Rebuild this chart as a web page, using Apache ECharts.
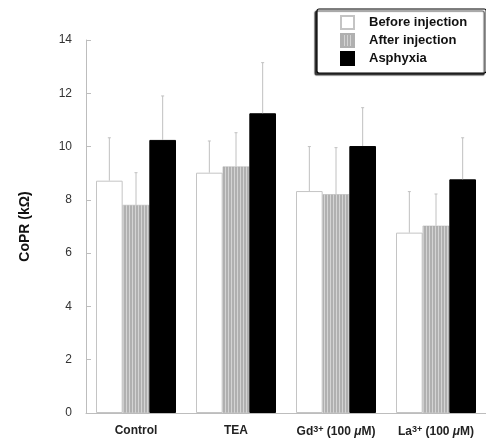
<!DOCTYPE html>
<html>
<head>
<meta charset="utf-8">
<script src="https://cdn.jsdelivr.net/npm/echarts@6/dist/echarts.min.js"></script>
<style>
    html, body { margin: 0; padding: 0; background: #fff; }
    #chart { width: 486px; height: 439px; }
</style>
</head>
<body>
<div id="chart"></div>
<script>
// data
const categories = ['Control', 'TEA', 'Gd', 'La']
const seriesNames = ['Before injection', 'After injection', 'Asphyxia']
const beforeVals = [8.72, 9.02, 8.33, 6.77]
const beforeErr = [1.61, 1.19, 1.67, 1.54]
const afterVals = [7.81, 9.25, 8.21, 7.03]
const afterErr = [1.21, 1.27, 1.75, 1.19]
const asphyxiaVals = [10.25, 11.25, 10.02, 8.77]
const asphyxiaErr = [1.65, 1.9, 1.44, 1.56]
const yTicks = { min: 0, max: 14, interval: 2 }

const font = 'Arial, "Liberation Sans", Helvetica, sans-serif'

// vertical stripe fill for the "after" bars
const stripe = document.createElement('canvas')
stripe.width = 3
stripe.height = 4
const sctx = stripe.getContext('2d')
sctx.fillStyle = '#b0b0b0'
sctx.fillRect(0, 0, 3, 4)
sctx.fillStyle = '#d4d4d4'
sctx.fillRect(0, 0, 1, 4)
const stripeFill = { image: stripe, repeat: 'repeat' }

const catGap = 0.2
const groups = [
    { vals: beforeVals, err: beforeErr, style: { color: '#fff', borderColor: '#c4c4c4', borderWidth: 1 } },
    { vals: afterVals, err: afterErr, style: { color: stripeFill, borderColor: '#b0b0b0', borderWidth: 0.5 } },
    { vals: asphyxiaVals, err: asphyxiaErr, style: { color: '#000', borderColor: '#000', borderWidth: 1 } },
]

function errorRenderer(idx) {
    return function (params, api) {
        const ci = api.value(0)
        const v = api.value(1)
        const e = api.value(2)
        const catW = api.size([1, 0])[0]
        const barW = catW * (1 - catGap) / 3
        const base = api.coord([ci, v])
        const top = api.coord([ci, v + e])
        const x = base[0] + (idx - 1) * barW
        return {
            type: 'group',
            children: [
                { type: 'line', shape: { x1: x, y1: base[1], x2: x, y2: top[1] }, style: { stroke: '#c0c0c0', lineWidth: 1 } },
                { type: 'line', shape: { x1: x - 1.5, y1: top[1], x2: x + 1.5, y2: top[1] }, style: { stroke: '#c0c0c0', lineWidth: 1 } },
            ],
        }
    }
}

const series = []
groups.forEach((g, i) => {
    series.push({
        name: seriesNames[i],
        type: 'bar',
        barGap: 0,
        barCategoryGap: catGap * 100 + '%',
        itemStyle: g.style,
        data: g.vals,
    })
})
groups.forEach((g, i) => {
    series.push({
        type: 'custom',
        renderItem: errorRenderer(i),
        encode: { x: 0, y: 1 },
        z: 5,
        silent: true,
        data: g.vals.map((v, k) => [k, v, g.err[k]]),
    })
})

const labelRich = {
    b: { fontFamily: font, fontWeight: 'bold', fontSize: 12, color: '#222' },
    sup: { fontFamily: font, fontWeight: 'bold', fontSize: 9, color: '#222', verticalAlign: 'top', padding: [0, 0, 5, 0] },
    it: { fontFamily: font, fontWeight: 'bold', fontStyle: 'italic', fontSize: 12, color: '#222' },
}

const option = {
    animation: false,
    backgroundColor: '#fff',
    grid: { left: 86, top: 40, width: 406, height: 373 },
    legend: {
        orient: 'vertical',
        left: 317,
        top: 9,
        padding: [6, 19, 7, 23],
        icon: 'rect',
        itemWidth: 13,
        itemHeight: 13,
        itemGap: 3,
        backgroundColor: '#fff',
        borderColor: '#000',
        borderWidth: 1.2,
        borderRadius: 2,
        shadowColor: 'rgba(0,0,0,0.75)',
        shadowBlur: 1,
        shadowOffsetX: -2,
        shadowOffsetY: 2,
        textStyle: { fontFamily: font, fontWeight: 'bold', fontSize: 13, lineHeight: 14, color: '#111', padding: [0, 0, 0, 10] },
        data: seriesNames,
    },
    xAxis: {
        type: 'category',
        data: categories,
        axisLine: { lineStyle: { color: '#bdbdbd', width: 1 } },
        axisTick: { inside: true, length: 4, lineStyle: { color: '#bdbdbd' } },
        axisLabel: {
            interval: 0,
            margin: 12,
            formatter: (val) => {
                if (val === 'Gd') return '{b|Gd}{sup|3+}{b| (100 }{it|μ}{b|M)}'
                if (val === 'La') return '{b|La}{sup|3+}{b| (100 }{it|μ}{b|M)}'
                return '{b|' + val + '}'
            },
            rich: labelRich,
        },
    },
    yAxis: {
        type: 'value',
        min: yTicks.min,
        max: yTicks.max,
        interval: yTicks.interval,
        name: 'CoPR (kΩ)',
        nameLocation: 'middle',
        nameGap: 54,
        nameTextStyle: { fontFamily: font, fontWeight: 'bold', fontSize: 14, color: '#111' },
        splitLine: { show: false },
        axisLine: { show: true, lineStyle: { color: '#bdbdbd', width: 1 } },
        axisTick: { show: true, inside: true, length: 5, lineStyle: { color: '#bdbdbd' } },
        axisLabel: { margin: 14, fontFamily: font, fontSize: 12, color: '#333' },
    },
    series: series,
}

const chartDom = document.getElementById('chart')
const myChart = echarts.init(chartDom)
myChart.setOption(option)
</script>
</body>
</html>
